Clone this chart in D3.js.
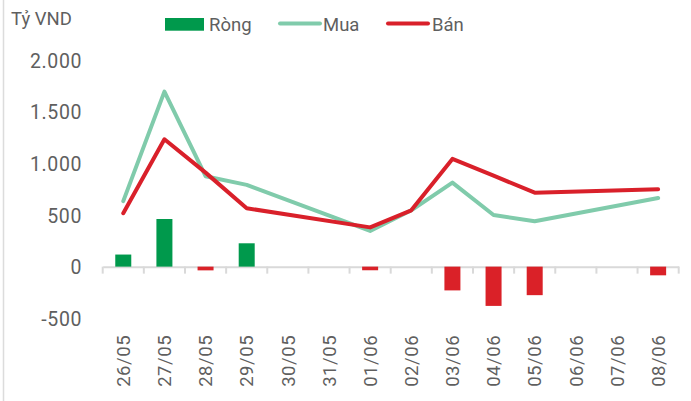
<!DOCTYPE html>
<html><head><meta charset="utf-8">
<script src="https://cdn.jsdelivr.net/npm/d3@7"></script>
<style>html,body{margin:0;padding:0;background:#fff;}svg{display:block;}</style>
</head><body>
<svg id="c" width="691" height="401"></svg>
<script>
const categories = ["26/05","27/05","28/05","29/05","30/05","31/05","01/06","02/06","03/06","04/06","05/06","06/06","07/06","08/06"];
const muaValues  = [634, 1694, 875, 791, null, null, 345, 545, 813, 500, 440, null, null, 665];
const banValues  = [517, 1233, 910, 565, null, null, 380, 545, 1043, 880, 716, null, null, 749];
const rongValues = [117, 461, -36, 226, null, null, -35, 0, -230, -380, -276, null, null, -84];
const yTicks = [-500, 0, 500, 1000, 1500, 2000];
const yTickLabels = ["-500", "0", "500", "1.000", "1.500", "2.000"];
const legendLabels = ["Ròng", "Mua", "Bán"];
const unitLabel = "Tỷ VND";

const colors = {pos:"#00994c", neg:"#da2128", mua:"#80cbab", ban:"#d9202a", text:"#5f5f5f", axis:"#d9d9d9"};
const font = "Roboto, 'DejaVu Sans', sans-serif";

const svg = d3.select("#c");
const x = d3.scaleBand().domain(categories).range([102.7, 678.7]).padding(0);
const y = d3.scaleLinear().domain([-500, 2000]).range([318.3, 60]);

// left border
svg.append("line").attr("x1",3.5).attr("x2",3.5).attr("y1",0).attr("y2",401)
  .attr("stroke","#dcdcdc").attr("stroke-width",1.5);

// y labels
const yAxis = d3.axisLeft(y).tickValues(yTicks).tickSize(0).tickPadding(0)
  .tickFormat((d,i)=>yTickLabels[yTicks.indexOf(d)]);
const gy = svg.append("g").attr("transform","translate(82,0)").call(yAxis);
gy.select(".domain").remove();
gy.selectAll("text").attr("fill",colors.text).style("font-family",font)
  .style("font-size","19.5px").style("letter-spacing","0.6px").attr("dy","0.36em");

// x axis
const xAxis = d3.axisBottom(x).tickSize(0).tickPadding(0);
const gx = svg.append("g").attr("transform",`translate(0,${y(0)})`).call(xAxis);
gx.select(".domain").attr("stroke",colors.axis).attr("stroke-width",2);
gx.selectAll(".tick text").attr("fill",colors.text).style("font-family",font)
  .style("font-size","18.5px").style("letter-spacing","0.6px")
  .attr("text-anchor","end").attr("transform","translate(0,68) rotate(-90)")
  .attr("dy","0.36em").attr("x",0).attr("y",0);
const bounds = categories.map(c=>x(c)).concat([x(categories[categories.length-1])+x.bandwidth()]);
gx.append("g").selectAll("line").data(bounds).join("line")
  .attr("x1",d=>d).attr("x2",d=>d).attr("y1",0).attr("y2",7)
  .attr("stroke",colors.axis).attr("stroke-width",2);

// bars
const barW = 16;
svg.append("g").selectAll("rect").data(categories.map((c,i)=>({c, v:rongValues[i]})).filter(d=>d.v!==null && d.v!==0))
  .join("rect")
  .attr("x", d=>x(d.c)+x.bandwidth()/2-barW/2)
  .attr("width", barW)
  .attr("y", d=>d.v>=0 ? y(d.v) : y(0))
  .attr("height", d=>Math.abs(y(d.v)-y(0)))
  .attr("fill", d=>d.v>=0 ? colors.pos : colors.neg);

// lines
function drawLine(vals, color){
  const pts = categories.map((c,i)=>({c, v:vals[i]})).filter(d=>d.v!==null);
  const line = d3.line().x(d=>x(d.c)+x.bandwidth()/2).y(d=>y(d.v));
  svg.append("path").datum(pts).attr("d",line).attr("fill","none")
    .attr("stroke",color).attr("stroke-width",4).attr("stroke-linejoin","round").attr("stroke-linecap","round");
}
drawLine(muaValues, colors.mua);
drawLine(banValues, colors.ban);

// unit label
svg.append("text").attr("x",11).attr("y",25).text(unitLabel).attr("fill",colors.text)
  .style("font-family",font).style("font-size","18.5px");

// legend
const lg = svg.append("g");
lg.append("rect").attr("x",165).attr("y",18).attr("width",39).attr("height",12.7).attr("fill",colors.pos);
lg.append("text").attr("x",209).attr("y",30.5).text(legendLabels[0]);
lg.append("line").attr("x1",280).attr("x2",320).attr("y1",23.5).attr("y2",23.5).attr("stroke",colors.mua).attr("stroke-width",4).attr("stroke-linecap","round");
lg.append("text").attr("x",323).attr("y",30.5).text(legendLabels[1]);
lg.append("line").attr("x1",388).attr("x2",428).attr("y1",23.5).attr("y2",23.5).attr("stroke",colors.ban).attr("stroke-width",4).attr("stroke-linecap","round");
lg.append("text").attr("x",432).attr("y",30.5).text(legendLabels[2]);
lg.selectAll("text").attr("fill",colors.text).style("font-family",font).style("font-size","18.5px");
</script>
</body></html>
